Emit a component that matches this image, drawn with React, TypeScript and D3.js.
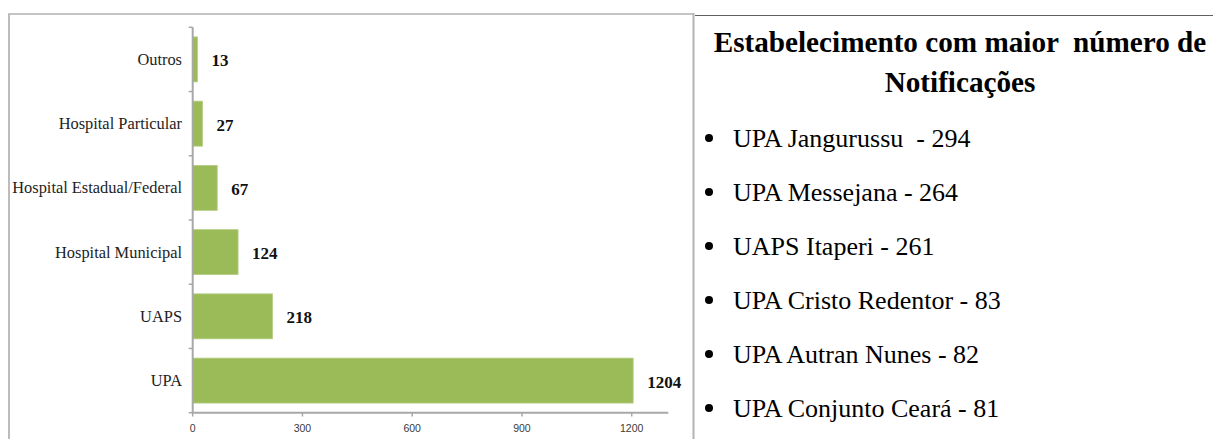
import React from "react";
import * as d3 from "d3";

const categories = ["Outros", "Hospital Particular", "Hospital Estadual/Federal", "Hospital Municipal", "UAPS", "UPA"];
const values = [13, 27, 67, 124, 218, 1204];
const xTicks = [0, 300, 600, 900, 1200];
const titleLines = ["Estabelecimento com maior  número de", "Notificações"];
const topItems = [
  "UPA Jangurussu  - 294",
  "UPA Messejana - 264",
  "UAPS Itaperi - 261",
  "UPA Cristo Redentor - 83",
  "UPA Autran Nunes - 82",
  "UPA Conjunto Ceará - 81",
];

const W = 1213;
const H = 439;

export default function App() {
  const x = d3.scaleLinear().domain([0, 1300]).range([192.7, 668.3]);
  const y = d3.scaleBand<string>().domain(categories).range([27.3, 412.7]).paddingInner(0.3).paddingOuter(0.15);
  const y0 = 27.3;
  const boundaries = d3.range(categories.length + 1).map((i) => y0 + i * ((412.7 - 27.3) / categories.length));
  const axisColor = "#a8a8a8";
  const serif = "'Liberation Serif', 'Times New Roman', serif";

  return (
    <svg width={W} height={H} style={{ position: "absolute", left: 0, top: 0, background: "#fff" }}>
      {/* frames */}
      <line x1={8} y1={14} x2={693} y2={14} stroke="#c4c4c4" strokeWidth={2} />
      <line x1={9} y1={14} x2={9} y2={H} stroke="#bcbcbc" strokeWidth={2} />
      <line x1={693.5} y1={13} x2={693.5} y2={H} stroke="#b4b4b4" strokeWidth={2} />
      <line x1={695} y1={15.5} x2={W} y2={15.5} stroke="#606060" strokeWidth={1} />

      {/* bars */}
      {categories.map((c, i) => (
        <rect key={c} x={x(0)} y={y(c)} width={x(values[i]) - x(0)} height={y.bandwidth()} fill="#9bbb59" stroke="#b5cf85" strokeWidth={0.8} />
      ))}

      {/* axes */}
      <line x1={x(0)} y1={27.3} x2={x(0)} y2={413} stroke={axisColor} strokeWidth={2} />
      {boundaries.map((b, i) => (
        <line key={i} x1={x(0) - 4} y1={b} x2={x(0)} y2={b} stroke={axisColor} strokeWidth={1.5} />
      ))}
      <line x1={x(0) - 1} y1={412.7} x2={x(1300)} y2={412.7} stroke={axisColor} strokeWidth={2} />
      {xTicks.map((t) => (
        <g key={t}>
          <line x1={x(t)} y1={412.7} x2={x(t)} y2={416.5} stroke={axisColor} strokeWidth={1.5} />
          <text x={x(t)} y={431.5} textAnchor="middle" fontFamily="'Liberation Sans', Arial, sans-serif" fontSize={10.5} fill="#3a3a3a">
            {t}
          </text>
        </g>
      ))}

      {/* category labels */}
      {categories.map((c) => (
        <text key={c} x={182} y={(y(c) as number) + y.bandwidth() / 2 + 5.5} textAnchor="end" fontFamily={serif} fontSize={16.4} fill="#1e1e1e">
          {c}
        </text>
      ))}

      {/* value labels */}
      {categories.map((c, i) => (
        <text key={c} x={x(values[i]) + 14} y={(y(c) as number) + y.bandwidth() / 2 + 7} fontFamily={serif} fontWeight="bold" fontSize={17} fill="#111">
          {values[i]}
        </text>
      ))}

      {/* right panel */}
      {titleLines.map((t, i) => (
        <text key={i} x={960} y={52 + i * 40} textAnchor="middle" fontFamily={serif} fontWeight="bold" fontSize={29.2} fill="#000" style={{ whiteSpace: "pre" }}>
          {t}
        </text>
      ))}
      {topItems.map((t, i) => (
        <g key={i}>
          <circle cx={709} cy={147 + i * 54 - 9} r={4} fill="#000" />
          <text x={733} y={147 + i * 54} fontFamily={serif} fontSize={26} fill="#000" style={{ whiteSpace: "pre" }}>
            {t}
          </text>
        </g>
      ))}
    </svg>
  );
}
